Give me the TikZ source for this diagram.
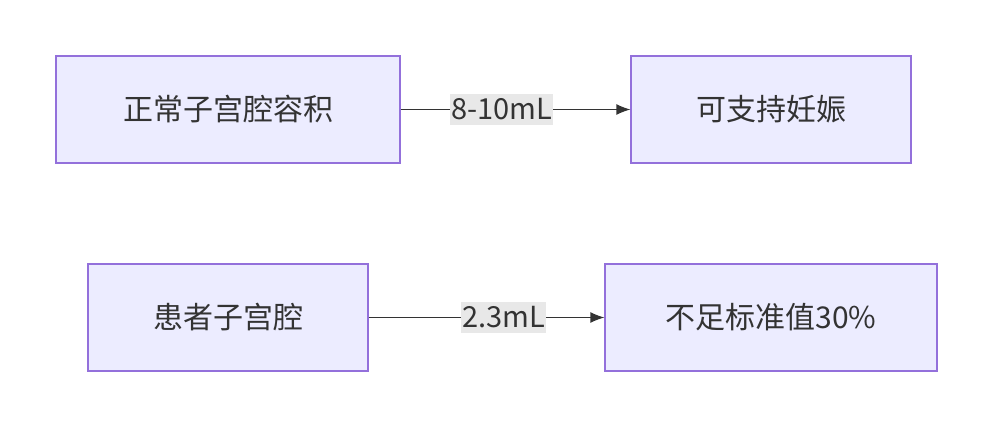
\documentclass[tikz,border=0pt]{standalone}
\usepackage{fontspec}
\setmainfont{Noto Sans CJK SC}
\usetikzlibrary{positioning,arrows.meta}
\definecolor{boxfill}{HTML}{ECECFF}
\definecolor{boxline}{HTML}{9370DB}
\definecolor{lblfill}{HTML}{E8E8E8}
\definecolor{arrowcol}{HTML}{333333}
\tikzset{
  stepbox/.style={draw=boxline, fill=boxfill, line width=1.2pt, minimum height=107pt,
    font=\fontsize{30}{34}\selectfont, text=arrowcol},
  flow/.style={draw=arrowcol, line width=1.2pt, -{Latex[length=14pt,width=11pt]}},
  lbl/.style={fill=lblfill, font=\fontsize{29}{33}\selectfont, text=arrowcol,
    inner xsep=1pt, inner ysep=5pt}
}
\begin{document}
\begin{tikzpicture}[x=1pt,y=-1pt]
\useasboundingbox (0,0) rectangle (993,428);
\node[stepbox, minimum width=344pt] (normal) at (228,109.5) {正常子宫腔容积};
\node[stepbox, minimum width=280pt] (preg) at (771,109.5) {可支持妊娠};
\node[stepbox, minimum width=280pt] (patient) at (228,317.5) {患者子宫腔};
\node[stepbox, minimum width=332pt] (short) at (771,317.5) {不足标准值30\%};
\draw[flow] (normal) -- node[lbl, xshift=-14pt] {8-10mL} (preg);
\draw[flow] (patient) -- node[lbl, xshift=17pt] {2.3mL} (short);
\end{tikzpicture}
\end{document}
